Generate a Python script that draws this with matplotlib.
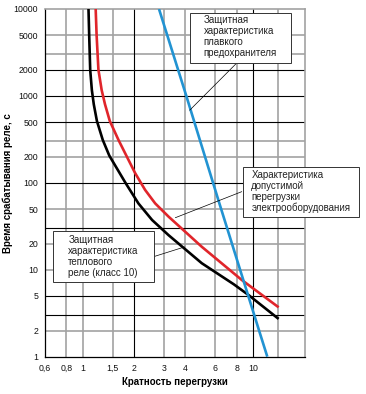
import matplotlib
matplotlib.use("Agg")
import matplotlib.pyplot as plt
from matplotlib.patches import Rectangle

plt.rcParams['font.family'] = ['Liberation Sans', 'DejaVu Sans']

# ---- data ----
black_x = [1.08, 1.09, 1.105, 1.13, 1.16, 1.21, 1.31, 1.43, 1.78, 2.12, 2.55, 3.18, 4.99, 7.7, 9.38, 14.1]
black_y = [10000, 5000, 2000, 1170, 800, 515, 311, 206, 100, 58, 37.4, 25.1, 11.9, 6.8, 5.13, 2.72]
red_x = [1.19, 1.205, 1.235, 1.29, 1.35, 1.44, 1.62, 1.8, 2.03, 2.32, 2.66, 3.18, 4.99, 8.57, 14.1]
red_y = [10000, 5000, 2000, 1170, 800, 515, 311, 206, 129, 83, 58, 41, 18.4, 7.63, 3.7]
blue_x = [2.8, 4.05, 6.25, 10.8, 12.1]
blue_y = [10000, 1000, 63, 2.03, 1]

x_ticks = [0.6, 0.8, 1, 1.5, 2, 3, 4, 6, 8, 10]
x_ticklabels = ['0,6', '0,8', '1', '1,5', '2', '3', '4', '6', '8', '10']
y_ticks = [1, 2, 5, 10, 20, 50, 100, 200, 500, 1000, 2000, 5000, 10000]
y_ticklabels = ['1', '2', '5', '10', '20', '50', '100', '200', '500', '1000', '2000', '5000', '10000']

x_grid_black = [2, 10]
x_grid_gray = [0.8, 1, 1.5, 3, 4, 6, 8, 14]
y_grid_black = [3, 5, 30, 100, 500, 1000, 2000]
y_grid_gray = [2, 10, 20, 50, 200, 300, 3000, 5000]

xlabel = 'Кратность перегрузки'
ylabel = 'Время срабатывания реле, с'
note_fuse = 'Защитная\nхарактеристика\nплавкого\nпредохранителя'
note_equip = 'Характеристика\nдопустимой\nперегрузки\nэлектрооборудования'
note_relay = 'Защитная\nхарактеристика\nтеплового\nреле (класс 10)'

# ---- figure ----
fig = plt.figure(figsize=(3.66, 3.94), dpi=100)
ax = fig.add_axes([45/366, 1-356.7/394, 259.5/366, 347.7/394])
ax.set_xscale('log')
ax.set_yscale('log')
ax.set_xlim(0.6, 20)
ax.set_ylim(1, 10000)

gray = '#a2a2a2'
for v in x_grid_gray:
    ax.axvline(v, color=gray, lw=1.2, zorder=1)
for v in y_grid_gray:
    ax.axhline(v, color=gray, lw=1.2, zorder=1)
for v in x_grid_black:
    ax.axvline(v, color='black', lw=0.8, zorder=1.5)
for v in y_grid_black:
    ax.axhline(v, color='black', lw=0.8, zorder=1.5)

ax.plot(black_x, black_y, color='black', lw=1.9, zorder=3, solid_capstyle='butt', solid_joinstyle='round')
ax.plot(red_x, red_y, color='#e0252b', lw=1.9, zorder=3, solid_capstyle='butt', solid_joinstyle='round')
ax.plot(blue_x, blue_y, color='#2293d2', lw=1.9, zorder=3, solid_capstyle='butt')

ax.set_xticks(x_ticks)
ax.set_xticklabels(x_ticklabels)
ax.set_yticks(y_ticks)
ax.set_yticklabels(y_ticklabels)
ax.minorticks_off()
ax.tick_params(axis='both', length=0, labelsize=6.3, colors='#111111')
ax.tick_params(axis='y', pad=5)
ax.tick_params(axis='x', pad=5)

ax.set_xlabel(xlabel, fontsize=7, fontweight='bold')
ax.set_ylabel(ylabel, fontsize=7, fontweight='bold')
ax.xaxis.set_label_coords(0.5, -0.058)
ax.yaxis.set_label_coords(-0.125, 0.5)

for s in ['left', 'bottom']:
    ax.spines[s].set_color('black')
    ax.spines[s].set_linewidth(0.9)
for s in ['top', 'right']:
    ax.spines[s].set_color(gray)
    ax.spines[s].set_linewidth(1.2)

# ---- annotation boxes ----
def box(x0, y0, x1, y1):
    r = Rectangle((x0, y0), x1 - x0, y1 - y0, transform=ax.transAxes,
                  facecolor='white', edgecolor='#333333', lw=0.7, zorder=5, clip_on=False)
    ax.add_patch(r)

tkw = dict(transform=ax.transAxes, ha='left', va='top', fontsize=7,
           linespacing=1.12, color='#222222', zorder=6, clip_on=False)

box(0.560, 0.844, 0.949, 0.989)
ax.text(0.612, 0.983, note_fuse, **tkw)

box(0.763, 0.402, 1.209, 0.546)
ax.text(0.795, 0.538, note_equip, **tkw)

box(0.032, 0.215, 0.420, 0.361)
ax.text(0.090, 0.350, note_relay, **tkw)

# leader lines (curve point -> box edge)
lkw = dict(arrowstyle='-', color='black', lw=0.5, shrinkA=0, shrinkB=0)
ax.annotate('', xy=(4.24, 685), xytext=(7.91, 2335), arrowprops=lkw, zorder=4)
ax.annotate('', xy=(3.49, 39.7), xytext=(8.57, 79.2), arrowprops=lkw, zorder=4)
ax.annotate('', xy=(3.95, 18.3), xytext=(2.56, 14.0), arrowprops=lkw, zorder=4)

fig.savefig('out.png', dpi=100, facecolor='white')
